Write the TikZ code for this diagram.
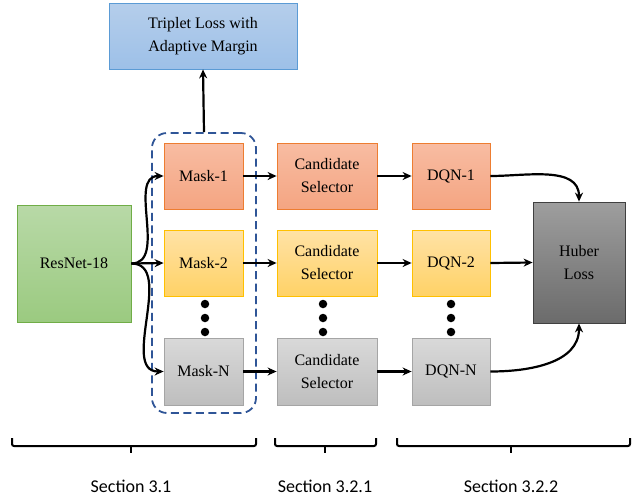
\documentclass[tikz,border=0pt]{standalone}
\usepackage{fontspec}
\setmainfont{Liberation Serif}
\newfontfamily\boxfont{Liberation Serif}
\newfontfamily\secfont{Carlito}
\usetikzlibrary{arrows.meta}
\definecolor{orB}{HTML}{ED7D31}
\definecolor{orT}{HTML}{F8BCA2}
\definecolor{orD}{HTML}{F4A582}
\definecolor{yeB}{HTML}{FFC000}
\definecolor{yeT}{HTML}{FFE2A6}
\definecolor{yeD}{HTML}{FFD266}
\definecolor{grB}{HTML}{A5A5A5}
\definecolor{grT}{HTML}{D9D9D9}
\definecolor{grD}{HTML}{BEBEBE}
\definecolor{gnB}{HTML}{70AD47}
\definecolor{gnT}{HTML}{B8D9A7}
\definecolor{gnD}{HTML}{9BCA80}
\definecolor{blB}{HTML}{5B9BD5}
\definecolor{blT}{HTML}{B5CEEB}
\definecolor{blD}{HTML}{9DC0E8}
\definecolor{huB}{HTML}{404040}
\definecolor{huT}{HTML}{9E9E9E}
\definecolor{huD}{HTML}{6B6B6B}
\definecolor{dashblue}{HTML}{2F5597}
\begin{document}
\begin{tikzpicture}[x=1pt,y=-1pt,
  box/.style={rectangle, inner sep=2pt, align=center, font=\boxfont\fontsize{16}{23}\selectfont, line width=0.8pt},
  orbox/.style={box, draw=orB, top color=orT, bottom color=orD},
  yebox/.style={box, draw=yeB, top color=yeT, bottom color=yeD},
  grbox/.style={box, draw=grB, top color=grT, bottom color=grD},
  arr/.style={-{Stealth[length=9pt,width=8pt]}, line width=2.2pt},
  dot/.style={circle, fill=black, inner sep=0pt, minimum size=8.5pt},
  brace/.style={line width=2pt, rounded corners=2pt},
  sec/.style={font=\secfont\fontsize{18}{20}\selectfont}
]
\useasboundingbox (0,0) rectangle (637,496);

% top
\node[box, draw=blB, top color=blT, bottom color=blD, minimum width=188pt, minimum height=66pt] (trip) at (203,36) {Triplet Loss with\\Adaptive Margin};

% resnet
\node[box, draw=gnB, top color=gnT, bottom color=gnD, minimum width=114pt, minimum height=117pt] (res) at (74,263.5) {ResNet-18};

% masks
\node[orbox, minimum width=79pt, minimum height=66pt] (m1) at (203.5,176) {Mask-1};
\node[yebox, minimum width=79pt, minimum height=66pt] (m2) at (203.5,263) {Mask-2};
\node[grbox, minimum width=79pt, minimum height=67pt] (mN) at (203.5,371.5) {Mask-N};

% candidate selectors
\node[orbox, minimum width=100pt, minimum height=66pt] (c1) at (327,176) {Candidate\\Selector};
\node[yebox, minimum width=100pt, minimum height=66pt] (c2) at (327,263) {Candidate\\Selector};
\node[grbox, minimum width=100pt, minimum height=67pt] (cN) at (327,371.5) {Candidate\\Selector};

% DQN
\node[orbox, minimum width=78pt, minimum height=66pt] (d1) at (451,176) {DQN-1};
\node[yebox, minimum width=78pt, minimum height=66pt] (d2) at (451,263) {DQN-2};
\node[grbox, minimum width=78pt, minimum height=67pt] (dN) at (451,371.5) {DQN-N};

% huber
\node[box, draw=huB, top color=huT, bottom color=huD, minimum width=92pt, minimum height=121pt] (hub) at (579,262.5) {Huber\\Loss};

% dashed group
\node[draw=dashblue, dashed, dash pattern=on 8pt off 4.5pt, line width=1.8pt, rounded corners=15pt, minimum width=104pt, minimum height=280pt] (grp) at (204,273) {};

% dots
\foreach \x/\n in {205/a,323/b,451/c}{
  \node[dot] (dt\n1) at (\x,304) {};
  \node[dot] (dt\n2) at (\x,318) {};
  \node[dot] (dt\n3) at (\x,332) {};
}

% arrows
\draw[arr] (grp.north) -- (trip.south);
\draw[arr] (res.east) to[out=0,in=180] (m1.west);
\draw[arr] (res.east) -- (m2.west);
\draw[arr] (res.east) to[out=0,in=180] (mN.west);
\draw[arr] (m1.east) -- (c1.west);
\draw[arr] (m2.east) -- (c2.west);
\draw[arr] (mN.east) -- (cN.west);
\draw[arr] (c1.east) -- (d1.west);
\draw[arr] (c2.east) -- (d2.west);
\draw[arr] (cN.east) -- (dN.west);
\draw[arr] (d1.east) to[out=0,in=90] (hub.north);
\draw[arr] (d2.east) -- (hub.west);
\draw[arr] (dN.east) to[out=0,in=-90] (hub.south);

% braces
\coordinate (b1t) at (131,446);
\coordinate (b2t) at (325,446);
\coordinate (b3t) at (511,446);
\draw[brace] (12,438) -- (12,446) -- (256,446) -- (256,438);
\draw[line width=2pt] (b1t) -- (131,453);
\draw[brace] (275,438) -- (275,446) -- (376,446) -- (376,438);
\draw[line width=2pt] (b2t) -- (325,453);
\draw[brace] (397,438) -- (397,446) -- (630,446) -- (630,438);
\draw[line width=2pt] (b3t) -- (511,453);

\node[sec] (s1) at (131,486) {Section 3.1};
\node[sec] (s2) at (325,486) {Section 3.2.1};
\node[sec] (s3) at (511,486) {Section 3.2.2};
\end{tikzpicture}
\end{document}
